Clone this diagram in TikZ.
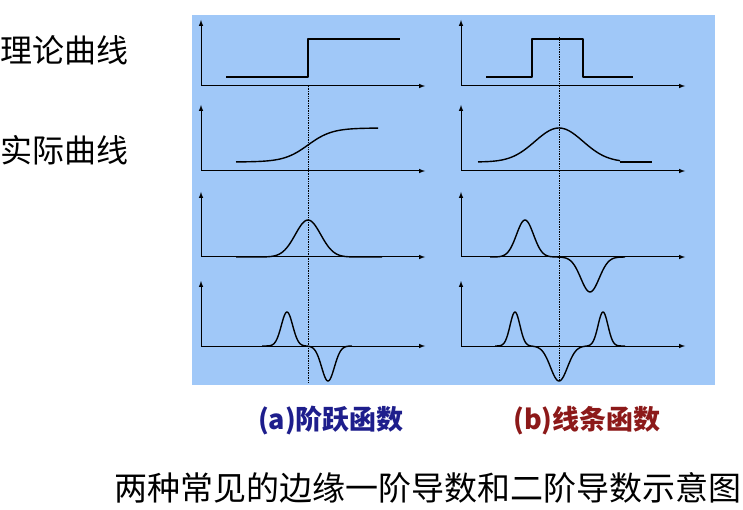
\documentclass[tikz,border=0pt]{standalone}
\usepackage{fontspec}
\newfontfamily\cjk{Noto Sans CJK SC}
\begin{document}
\begin{tikzpicture}[x=1pt,y=-1pt,
  ax/.style={line width=1pt,-latex},
  cv/.style={line width=1.4pt,line join=round},
  vd/.style={densely dotted,line width=0.7pt},
  declare function={g(\x,\c,\s)=exp(-((\x-\c)/\s)^2);}]
\useasboundingbox (0,0) rectangle (743,510);
\fill[fill={rgb,255:red,160;green,200;blue,248}] (192,15) rectangle (715,385);
% axes
\foreach \bx in {201,461}{
  \foreach \by/\ty in {86/20,171/105,257/192,346/281}{
    \draw[ax] (\bx,\by) -- (\bx,\ty);
    \draw[ax] (\bx,\by) -- (\bx+224,\by);
  }}
% dashed
\draw[vd] (308,86) -- (308,382);
\draw[vd] (559,37) -- (559,382);
% row1
\draw[cv] (226,77) -- (308,77) -- (308,39) -- (400,39);
\draw[cv] (486,77) -- (532,77) -- (532,39) -- (583,39) -- (583,77) -- (633,77);
% row2
\draw[cv] plot[domain=236:378,samples=80] (\x,{162-34/(1+exp(-(\x-308)/12))});
\draw[cv] plot[domain=478:620,samples=80] (\x,{162-34*exp(-((\x-559)/34)^2)});
\draw[line width=2pt] (620,162) -- (652,162);
% row3
\draw[cv] plot[domain=236:382,samples=100] (\x,{257-37*g(\x,308,18)});
\draw[cv] plot[domain=490:625,samples=120] (\x,{257-37*g(\x,525,12)+35*g(\x,590,13)});
% row4
\draw[cv] plot[domain=262:352,samples=140] (\x,{346-34*g(\x,287,8)+35*g(\x,328,9)});
\draw[cv] plot[domain=495:625,samples=160] (\x,{346-34*g(\x,515,7)-34*g(\x,603,7)+35*g(\x,559,12)});
% texts
\node[font=\cjk\fontsize{32}{36}\selectfont,anchor=west,inner sep=0pt] (t1) at (0,50) {理论曲线};
\node[font=\cjk\fontsize{32}{36}\selectfont,anchor=west,inner sep=0pt] (t2) at (0,150) {实际曲线};
\node[font=\cjk\bfseries\fontsize{27}{30}\selectfont,text={rgb,255:red,30;green,30;blue,140}] (ca) at (331,421) {(a)阶跃函数};
\node[font=\cjk\bfseries\fontsize{27}{30}\selectfont,text={rgb,255:red,140;green,25;blue,25}] (cb) at (587,421) {(b)线条函数};
\node[font=\cjk\fontsize{33}{36}\selectfont] (cc) at (428,488) {两种常见的边缘一阶导数和二阶导数示意图};
\end{tikzpicture}
\end{document}
